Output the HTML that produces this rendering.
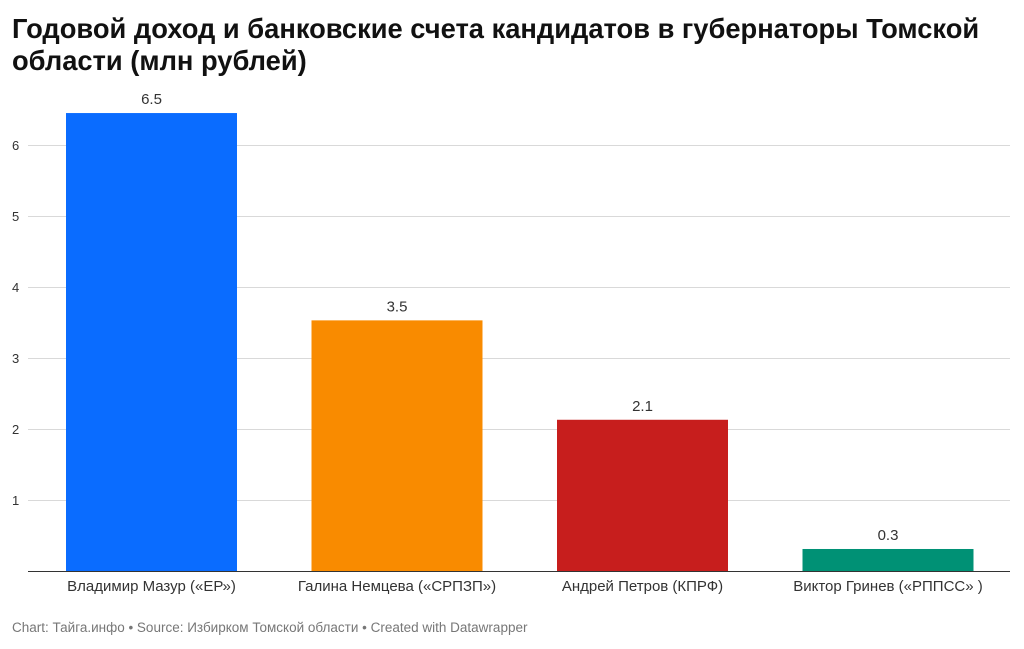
<!DOCTYPE html>
<html><head><meta charset="utf-8">
<style>
body{margin:0;background:#fff;width:1024px;height:649px;overflow:hidden;font-family:"Liberation Sans",sans-serif;}
h1{position:absolute;left:12px;top:13px;margin:0;font-size:27.3px;line-height:32px;font-weight:bold;color:#111;width:1010px;}
#foot{position:absolute;left:12px;top:620px;font-size:13.5px;color:#777;}
svg{position:absolute;left:0;top:0;}
</style></head><body>
<h1>Годовой доход и банковские счета кандидатов в губернаторы Томской области (млн рублей)</h1>
<svg id="chart" width="1024" height="649"></svg>
<div id="foot">Chart: Тайга.инфо • Source: Избирком Томской области • Created with Datawrapper</div>
<script>
const categories=["Владимир Мазур («ЕР»)","Галина Немцева («СРПЗП»)","Андрей Петров (КПРФ)","Виктор Гринев («РППСС» )"];
const values=[6.45,3.53,2.13,0.31];
const labels=["6.5","3.5","2.1","0.3"];
const colors=["#0a6cff","#f98b00","#c71e1d","#009175"];
const ticks=[1,2,3,4,5,6];
const NS="http://www.w3.org/2000/svg";
const svg=document.getElementById("chart");
const x0=28,x1=1010,y0=571,pxPerUnit=71;
const y=v=>y0-v*pxPerUnit;
const band=245.5, firstCenter=151.5;
function mk(t,a){const e=document.createElementNS(NS,t);for(const k in a)e.setAttribute(k,a[k]);svg.appendChild(e);return e;}
ticks.forEach(t=>{
 const l=mk("line",{x1:x0,x2:x1,y1:y(t)+0.5,y2:y(t)+0.5,stroke:"#d9d9d9","stroke-width":1});
 
 
 const tx=mk("text",{x:12,y:y(t)+5,"font-size":13,fill:"#333"});
 tx.textContent=t;
 
 
});
categories.forEach((c,i)=>{
 const cx=firstCenter+band*i;
 const w=171;
 const r=mk("rect",{x:cx-w/2,y:y(values[i]),width:w,height:values[i]*pxPerUnit,fill:colors[i]});
 
 
 const v=mk("text",{x:cx,y:y(values[i])-9,"font-size":15,fill:"#333","text-anchor":"middle"});
 v.textContent=labels[i];
 
 
 const cl=mk("text",{x:cx,y:591,"font-size":15,fill:"#333","text-anchor":"middle"});
 cl.textContent=c;
 
 
});
const base=mk("line",{x1:x0,x2:x1,y1:y0+0.5,y2:y0+0.5,stroke:"#333","stroke-width":1});


</script>
</body></html>
